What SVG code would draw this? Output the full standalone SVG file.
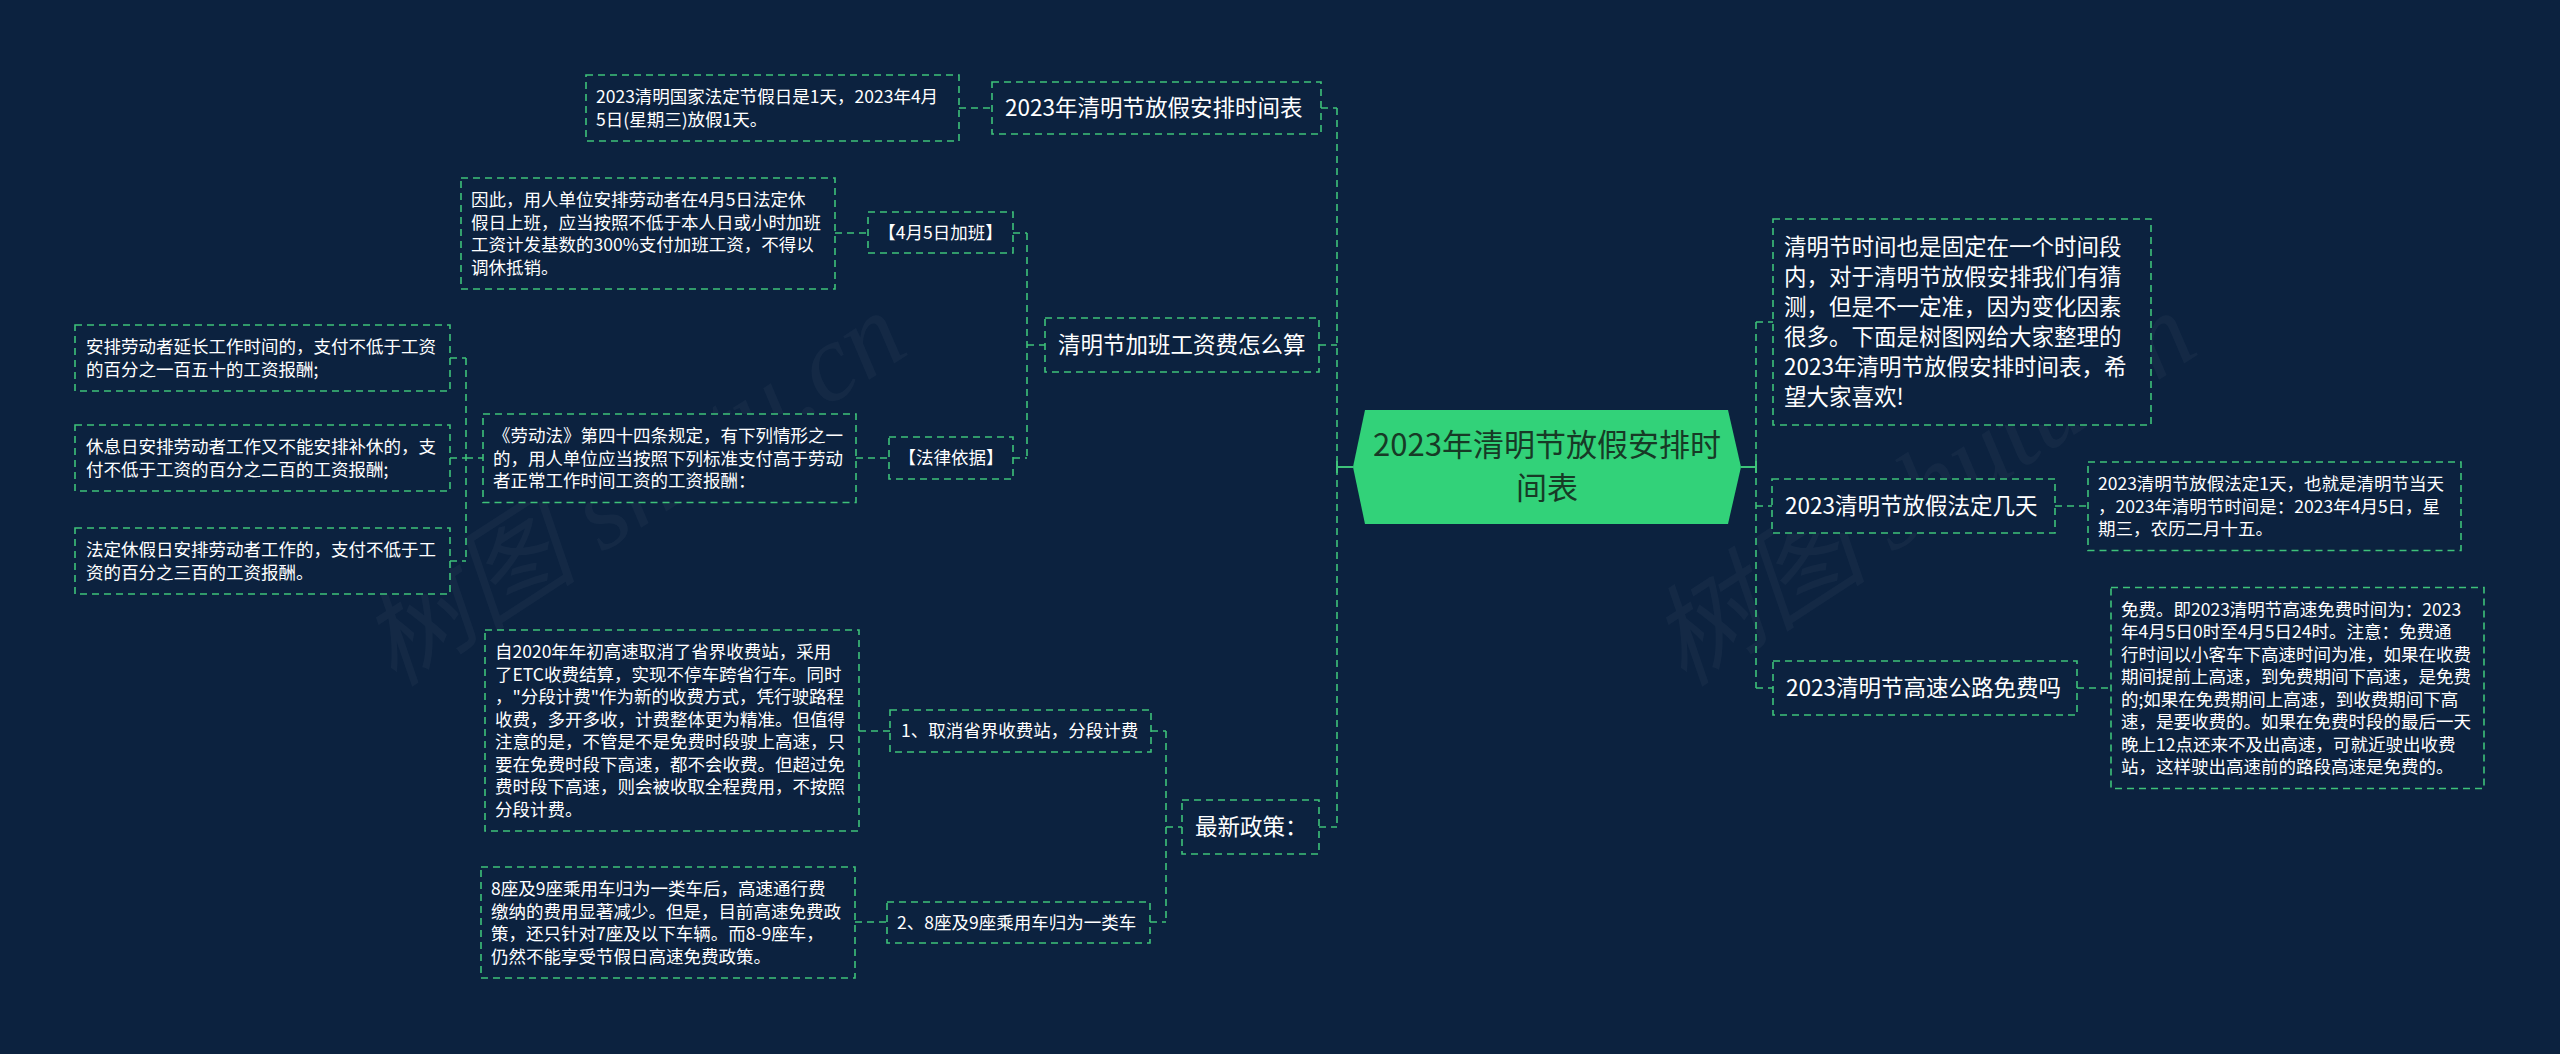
<svg xmlns="http://www.w3.org/2000/svg" width="2560" height="1054" viewBox="0 0 2560 1054">
<style>
.box{fill:#0c223f;stroke:#3ec27a;stroke-width:1.6;stroke-dasharray:7 5}
.c{fill:none;stroke:#3ec27a;stroke-width:1.6;stroke-dasharray:7 5}
.cs{fill:none;stroke:#3ec27a;stroke-width:2}
.t{font-family:"Noto Sans CJK SC","Liberation Sans",sans-serif;fill:#ffffff}
.leaf{font-size:17.5px}
.mid{font-size:17.5px}
.l1{font-size:22.5px}
.wm{font-family:"Liberation Serif","Noto Sans CJK SC",serif;font-size:110px;fill:#ffffff;fill-opacity:0.035;font-style:italic}
</style>
<rect x="0" y="0" width="2560" height="1054" fill="#0c223f"/>
<g id="watermarks">
<text class="wm" x="653" y="520" text-anchor="middle" transform="rotate(-33 653 520)">树图 shutu.cn</text>
<text class="wm" x="1943" y="520" text-anchor="middle" transform="rotate(-33 1943 520)">树图 shutu.cn</text>
</g>
<g id="connectors">
<line class="c" x1="1337" y1="108" x2="1337" y2="827"/>
<line class="c" x1="1321" y1="108" x2="1337" y2="108"/>
<line class="c" x1="1319" y1="345" x2="1337" y2="345"/>
<line class="c" x1="1319" y1="827" x2="1337" y2="827"/>
<line class="cs" x1="1337" y1="467" x2="1353" y2="467"/>
<line class="cs" x1="1337" y1="461" x2="1337" y2="473"/>
<line class="c" x1="959" y1="108" x2="992" y2="108"/>
<line class="c" x1="1027" y1="345" x2="1045" y2="345"/>
<line class="c" x1="1027" y1="233" x2="1027" y2="458"/>
<line class="c" x1="1013" y1="233" x2="1027" y2="233"/>
<line class="c" x1="1013" y1="458" x2="1027" y2="458"/>
<line class="c" x1="835" y1="233" x2="868" y2="233"/>
<line class="c" x1="856" y1="458" x2="889" y2="458"/>
<line class="c" x1="466" y1="458" x2="483" y2="458"/>
<line class="c" x1="466" y1="358" x2="466" y2="561"/>
<line class="c" x1="450" y1="358" x2="466" y2="358"/>
<line class="c" x1="450" y1="458" x2="466" y2="458"/>
<line class="c" x1="450" y1="561" x2="466" y2="561"/>
<line class="c" x1="1166" y1="827" x2="1182" y2="827"/>
<line class="c" x1="1166" y1="731" x2="1166" y2="922"/>
<line class="c" x1="1151" y1="731" x2="1166" y2="731"/>
<line class="c" x1="1150" y1="922" x2="1166" y2="922"/>
<line class="c" x1="859" y1="731" x2="890" y2="731"/>
<line class="c" x1="855" y1="922" x2="887" y2="922"/>
<line class="c" x1="1756" y1="322" x2="1756" y2="688"/>
<line class="cs" x1="1741" y1="467" x2="1756" y2="467"/>
<line class="cs" x1="1756" y1="461" x2="1756" y2="473"/>
<line class="c" x1="1756" y1="322" x2="1773" y2="322"/>
<line class="c" x1="1756" y1="506" x2="1772" y2="506"/>
<line class="c" x1="1756" y1="688" x2="1773" y2="688"/>
<line class="c" x1="2055" y1="506" x2="2088" y2="506"/>
<line class="c" x1="2077" y1="688" x2="2111" y2="688"/>
</g>
<g id="root">
<polygon points="1353,467 1365,410 1728,410 1741,467 1728,524 1365,524" fill="#32d279"/>
<text class="t" x="1547" y="456" text-anchor="middle" font-size="31" style="fill:#173a26">2023年清明节放假安排时</text>
<text class="t" x="1547" y="499" text-anchor="middle" font-size="31" style="fill:#173a26">间表</text>
</g>
<g id="node-schedule">
<rect class="box" x="992" y="82" width="329" height="52"/>
<text class="t l1" x="1005" y="116">2023年清明节放假安排时间表</text>
</g>
<g id="leaf-schedule">
<rect class="box" x="586" y="75" width="373" height="66"/>
<text class="t leaf" x="596" y="103">2023清明国家法定节假日是1天，2023年4月<tspan x="596" dy="22.5">5日(星期三)放假1天。</tspan></text>
</g>
<g id="node-overtime">
<rect class="box" x="1045" y="318" width="274" height="54"/>
<text class="t l1" x="1058" y="353">清明节加班工资费怎么算</text>
</g>
<g id="node-apr5">
<rect class="box" x="868" y="212" width="145" height="41"/>
<text class="t mid" x="940.5" y="239" text-anchor="middle">【4月5日加班】</text>
</g>
<g id="leaf-apr5">
<rect class="box" x="461" y="178" width="374" height="111"/>
<text class="t leaf" x="471" y="206">因此，用人单位安排劳动者在4月5日法定休<tspan x="471" dy="22.5">假日上班，应当按照不低于本人日或小时加班</tspan><tspan x="471" dy="22.5">工资计发基数的300%支付加班工资，不得以</tspan><tspan x="471" dy="22.5">调休抵销。</tspan></text>
</g>
<g id="node-law">
<rect class="box" x="889" y="437" width="124" height="42"/>
<text class="t mid" x="951" y="464" text-anchor="middle">【法律依据】</text>
</g>
<g id="leaf-law">
<rect class="box" x="483" y="414" width="373" height="88.5"/>
<text class="t leaf" x="493" y="442">《劳动法》第四十四条规定，有下列情形之一<tspan x="493" dy="22.5">的，用人单位应当按照下列标准支付高于劳动</tspan><tspan x="493" dy="22.5">者正常工作时间工资的工资报酬：</tspan></text>
</g>
<g id="leaf-law-1">
<rect class="box" x="75" y="325" width="375" height="66"/>
<text class="t leaf" x="86" y="353">安排劳动者延长工作时间的，支付不低于工资<tspan x="86" dy="22.5">的百分之一百五十的工资报酬;</tspan></text>
</g>
<g id="leaf-law-2">
<rect class="box" x="75" y="425" width="375" height="66"/>
<text class="t leaf" x="86" y="453">休息日安排劳动者工作又不能安排补休的，支<tspan x="86" dy="22.5">付不低于工资的百分之二百的工资报酬;</tspan></text>
</g>
<g id="leaf-law-3">
<rect class="box" x="75" y="528" width="375" height="66"/>
<text class="t leaf" x="86" y="556">法定休假日安排劳动者工作的，支付不低于工<tspan x="86" dy="22.5">资的百分之三百的工资报酬。</tspan></text>
</g>
<g id="node-policy">
<rect class="box" x="1182" y="800" width="137" height="54"/>
<text class="t l1" x="1195" y="835">最新政策：</text>
</g>
<g id="node-policy-1">
<rect class="box" x="890" y="710" width="261" height="42"/>
<text class="t mid" x="901" y="737">1、取消省界收费站，分段计费</text>
</g>
<g id="leaf-policy-1">
<rect class="box" x="485" y="630" width="374" height="201"/>
<text class="t leaf" x="495" y="658">自2020年年初高速取消了省界收费站，采用<tspan x="495" dy="22.5">了ETC收费结算，实现不停车跨省行车。同时</tspan><tspan x="495" dy="22.5">，"分段计费"作为新的收费方式，凭行驶路程</tspan><tspan x="495" dy="22.5">收费，多开多收，计费整体更为精准。但值得</tspan><tspan x="495" dy="22.5">注意的是，不管是不是免费时段驶上高速，只</tspan><tspan x="495" dy="22.5">要在免费时段下高速，都不会收费。但超过免</tspan><tspan x="495" dy="22.5">费时段下高速，则会被收取全程费用，不按照</tspan><tspan x="495" dy="22.5">分段计费。</tspan></text>
</g>
<g id="node-policy-2">
<rect class="box" x="887" y="902" width="263" height="41"/>
<text class="t mid" x="897" y="929">2、8座及9座乘用车归为一类车</text>
</g>
<g id="leaf-policy-2">
<rect class="box" x="481" y="867" width="374" height="111"/>
<text class="t leaf" x="491" y="895">8座及9座乘用车归为一类车后，高速通行费<tspan x="491" dy="22.5">缴纳的费用显著减少。但是，目前高速免费政</tspan><tspan x="491" dy="22.5">策，还只针对7座及以下车辆。而8-9座车，</tspan><tspan x="491" dy="22.5">仍然不能享受节假日高速免费政策。</tspan></text>
</g>
<g id="node-intro">
<rect class="box" x="1773" y="219" width="378" height="206"/>
<text class="t l1" x="1784" y="255">清明节时间也是固定在一个时间段<tspan x="1784" dy="30">内，对于清明节放假安排我们有猜</tspan><tspan x="1784" dy="30">测，但是不一定准，因为变化因素</tspan><tspan x="1784" dy="30">很多。下面是树图网给大家整理的</tspan><tspan x="1784" dy="30">2023年清明节放假安排时间表，希</tspan><tspan x="1784" dy="30">望大家喜欢!</tspan></text>
</g>
<g id="node-days">
<rect class="box" x="1772" y="479" width="283" height="54"/>
<text class="t l1" x="1785" y="514">2023清明节放假法定几天</text>
</g>
<g id="leaf-days">
<rect class="box" x="2088" y="462" width="373" height="88.5"/>
<text class="t leaf" x="2098" y="490">2023清明节放假法定1天，也就是清明节当天<tspan x="2098" dy="22.5">，2023年清明节时间是：2023年4月5日，星</tspan><tspan x="2098" dy="22.5">期三，农历二月十五。</tspan></text>
</g>
<g id="node-highway">
<rect class="box" x="1773" y="661" width="304" height="54"/>
<text class="t l1" x="1786" y="696">2023清明节高速公路免费吗</text>
</g>
<g id="leaf-highway">
<rect class="box" x="2111" y="587.5" width="373" height="201"/>
<text class="t leaf" x="2121" y="615.5">免费。即2023清明节高速免费时间为：2023<tspan x="2121" dy="22.5">年4月5日0时至4月5日24时。注意：免费通</tspan><tspan x="2121" dy="22.5">行时间以小客车下高速时间为准，如果在收费</tspan><tspan x="2121" dy="22.5">期间提前上高速，到免费期间下高速，是免费</tspan><tspan x="2121" dy="22.5">的;如果在免费期间上高速，到收费期间下高</tspan><tspan x="2121" dy="22.5">速，是要收费的。如果在免费时段的最后一天</tspan><tspan x="2121" dy="22.5">晚上12点还来不及出高速，可就近驶出收费</tspan><tspan x="2121" dy="22.5">站，这样驶出高速前的路段高速是免费的。</tspan></text>
</g>
</svg>
